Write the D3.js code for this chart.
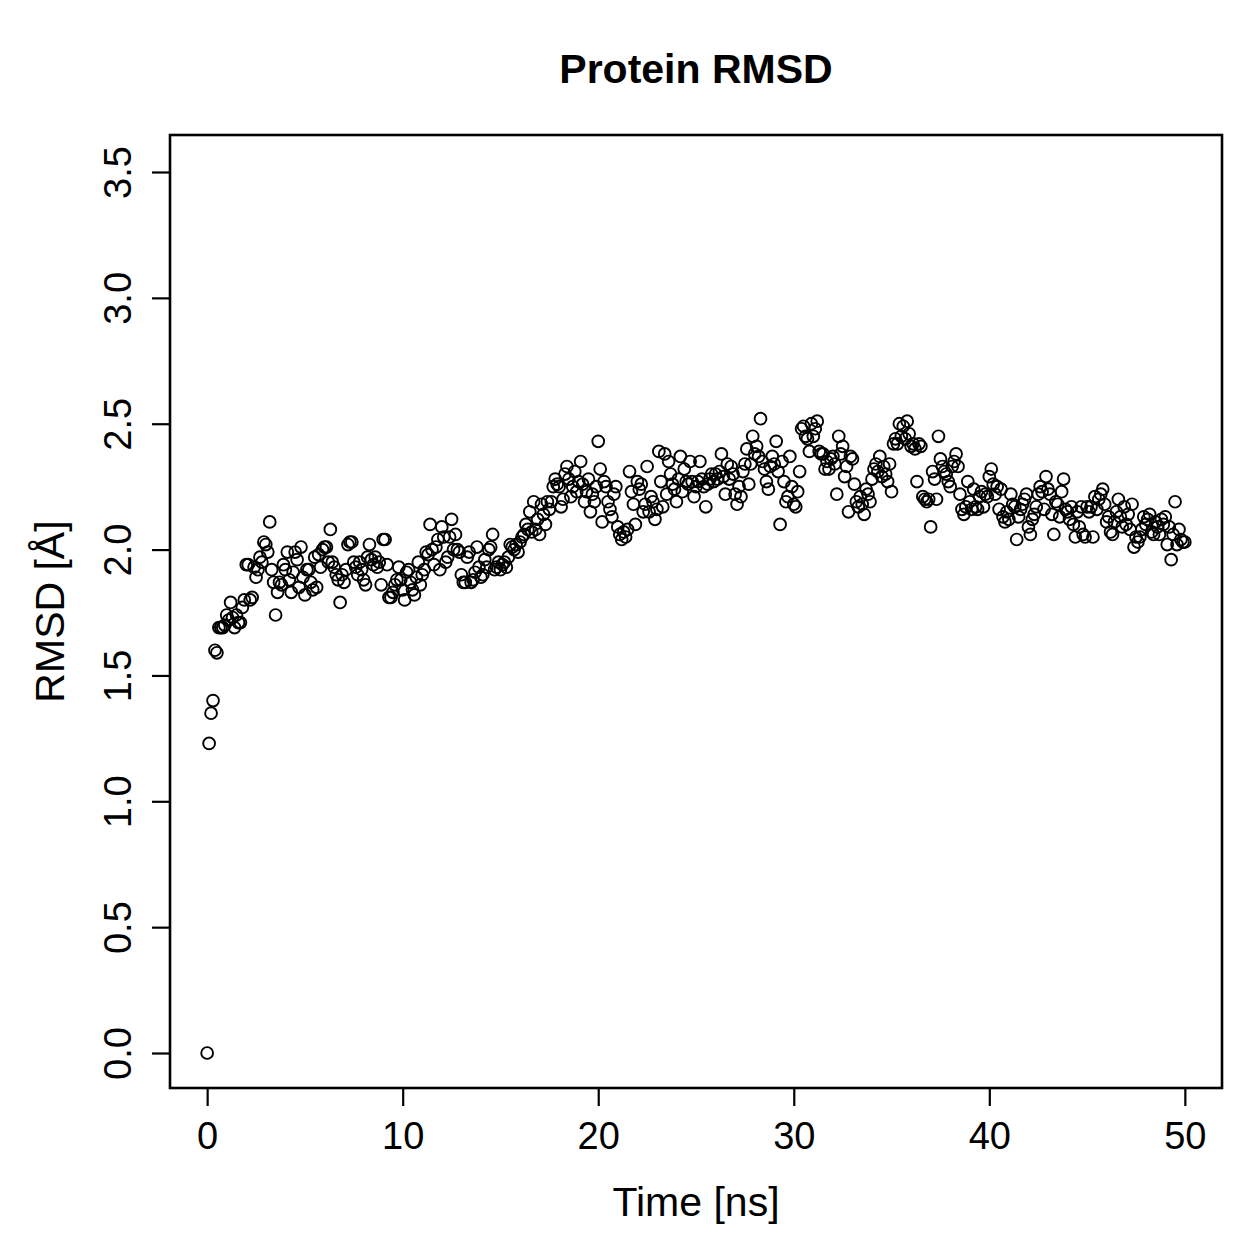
<!DOCTYPE html>
<html>
<head>
<meta charset="utf-8">
<script src="https://cdn.jsdelivr.net/npm/d3@7"></script>
<style>
  body { margin: 0; background: #fff; }
  svg text { font-family: "Liberation Sans", Arial, Helvetica, sans-serif; fill: #000; }
</style>
</head>
<body>
<div id="chart"></div>
<script>
// RMSD values, one per 0.1 ns (each row is one ns)
const rmsd = [
  0.00, 1.23, 1.35, 1.40, 1.60, 1.59, 1.69, 1.69, 1.69, 1.70,
  1.74, 1.72, 1.79, 1.73, 1.69, 1.74, 1.71, 1.71, 1.77, 1.80,
  1.94, 1.94, 1.80, 1.81, 1.93, 1.89, 1.92, 1.97, 1.95, 2.03,
  2.02, 1.99, 2.11, 1.92, 1.87, 1.74, 1.83, 1.87, 1.86, 1.94,
  1.92, 1.99, 1.88, 1.83, 1.91, 1.99, 1.96, 1.85, 2.01, 1.89,
  1.82, 1.92, 1.92, 1.87, 1.84, 1.97, 1.85, 1.98, 1.93, 2.00,
  2.01, 2.01, 1.95, 2.08, 1.95, 1.93, 1.90, 1.88, 1.79, 1.90,
  1.87, 1.92, 2.02, 2.03, 2.03, 1.95, 1.93, 1.90, 1.95, 1.92,
  1.88, 1.86, 1.97, 2.02, 1.96, 1.94, 1.97, 1.93, 1.95, 1.86,
  2.04, 2.04, 1.94, 1.81, 1.81, 1.83, 1.86, 1.88, 1.93, 1.88,
  1.84, 1.80, 1.91, 1.92, 1.87, 1.84, 1.82, 1.89, 1.95, 1.86,
  1.90, 1.92, 1.99, 1.98, 2.10, 2.00, 1.94, 2.01, 2.04, 1.92,
  2.09, 2.05, 1.95, 1.97, 2.05, 2.12, 2.00, 2.06, 2.00, 1.99,
  1.90, 1.87, 1.87, 1.97, 1.99, 1.87, 1.88, 1.91, 2.01, 1.93,
  1.89, 1.90, 1.96, 1.93, 2.00, 2.01, 2.06, 1.92, 1.93, 1.95,
  1.92, 1.94, 1.95, 1.93, 1.97, 2.02, 2.01, 2.00, 2.02, 1.99,
  2.03, 2.05, 2.06, 2.10, 2.08, 2.15, 2.07, 2.19, 2.08, 2.12,
  2.06, 2.18, 2.14, 2.10, 2.19, 2.16, 2.19, 2.25, 2.28, 2.26,
  2.25, 2.17, 2.20, 2.30, 2.33, 2.28, 2.21, 2.25, 2.31, 2.23,
  2.27, 2.35, 2.26, 2.19, 2.23, 2.28, 2.15, 2.22, 2.19, 2.25,
  2.43, 2.32, 2.11, 2.27, 2.25, 2.19, 2.16, 2.13, 2.22, 2.25,
  2.09, 2.06, 2.04, 2.07, 2.05, 2.08, 2.31, 2.23, 2.18, 2.10,
  2.27, 2.24, 2.26, 2.15, 2.18, 2.33, 2.15, 2.21, 2.19, 2.12,
  2.16, 2.39, 2.27, 2.17, 2.38, 2.22, 2.35, 2.30, 2.26, 2.24,
  2.19, 2.28, 2.37, 2.23, 2.32, 2.27, 2.26, 2.35, 2.27, 2.21,
  2.25, 2.27, 2.35, 2.28, 2.25, 2.17, 2.26, 2.28, 2.30, 2.27,
  2.30, 2.28, 2.31, 2.38, 2.29, 2.22, 2.34, 2.28, 2.33, 2.30,
  2.22, 2.18, 2.25, 2.21, 2.31, 2.34, 2.40, 2.26, 2.34, 2.45,
  2.38, 2.41, 2.37, 2.52, 2.35, 2.32, 2.27, 2.24, 2.33, 2.37,
  2.34, 2.43, 2.31, 2.10, 2.35, 2.27, 2.19, 2.21, 2.37, 2.25,
  2.18, 2.17, 2.23, 2.31, 2.48, 2.49, 2.45, 2.44, 2.39, 2.50,
  2.45, 2.48, 2.51, 2.39, 2.38, 2.38, 2.32, 2.35, 2.32, 2.36,
  2.37, 2.34, 2.22, 2.45, 2.38, 2.41, 2.29, 2.33, 2.15, 2.37,
  2.36, 2.26, 2.19, 2.17, 2.21, 2.18, 2.14, 2.24, 2.22, 2.19,
  2.28, 2.32, 2.34, 2.31, 2.37, 2.29, 2.33, 2.30, 2.27, 2.34,
  2.23, 2.42, 2.44, 2.42, 2.50, 2.45, 2.49, 2.44, 2.51, 2.46,
  2.41, 2.42, 2.40, 2.27, 2.42, 2.41, 2.21, 2.20, 2.19, 2.20,
  2.09, 2.31, 2.28, 2.20, 2.45, 2.36, 2.33, 2.31, 2.30, 2.27,
  2.25, 2.33, 2.35, 2.38, 2.33, 2.22, 2.16, 2.14, 2.17, 2.27,
  2.19, 2.16, 2.24, 2.17, 2.16, 2.21, 2.23, 2.17, 2.22, 2.21,
  2.29, 2.32, 2.26, 2.22, 2.25, 2.16, 2.24, 2.13, 2.11, 2.15,
  2.12, 2.22, 2.18, 2.17, 2.04, 2.13, 2.16, 2.18, 2.20, 2.22,
  2.09, 2.06, 2.12, 2.14, 2.17, 2.22, 2.25, 2.23, 2.16, 2.29,
  2.24, 2.22, 2.14, 2.06, 2.19, 2.18, 2.13, 2.23, 2.28, 2.16,
  2.15, 2.12, 2.17, 2.10, 2.05, 2.15, 2.09, 2.17, 2.06, 2.05,
  2.17, 2.15, 2.17, 2.05, 2.21, 2.16, 2.20, 2.22, 2.24, 2.18,
  2.11, 2.13, 2.07, 2.06, 2.11, 2.15, 2.20, 2.13, 2.09, 2.17,
  2.10, 2.14, 2.08, 2.18, 2.01, 2.05, 2.03, 2.05, 2.08, 2.13,
  2.10, 2.12, 2.14, 2.07, 2.06, 2.11, 2.09, 2.06, 2.12, 2.10,
  2.13, 2.02, 2.09, 1.96, 2.06, 2.19, 2.02, 2.08, 2.04, 2.03,
  2.03
];
const timeStep = 0.1; // ns between frames
const xTicks = [0, 10, 20, 30, 40, 50];
const yTicks = [0.0, 0.5, 1.0, 1.5, 2.0, 2.5, 3.0, 3.5];

const width = 1259, height = 1259;
const box = { left: 170, right: 1222, top: 135, bottom: 1088 };

const svg = d3.select("#chart").append("svg")
  .attr("width", width)
  .attr("height", height);

// R style padding around the data range
const x = d3.scaleLinear().domain([-1.9, 51.9]).range([box.left, box.right]);
const y = d3.scaleLinear().domain([-0.139, 3.647]).range([box.bottom, box.top]);

// points
svg.append("g")
  .selectAll("circle")
  .data(rmsd)
  .enter()
  .append("circle")
  .attr("cx", (d, i) => x(i * timeStep))
  .attr("cy", d => y(d))
  .attr("r", 5.9)
  .attr("fill", "none")
  .attr("stroke", "#000")
  .attr("stroke-width", 1.9);

// x axis
const xAxis = svg.append("g")
  .attr("transform", `translate(0,${box.bottom})`)
  .call(d3.axisBottom(x).tickValues(xTicks).tickSize(18).tickPadding(16).tickFormat(d3.format("d")));
xAxis.select(".domain").remove();
xAxis.selectAll("line").attr("stroke-width", 2.2);
xAxis.selectAll("text").attr("font-size", 38).attr("font-family", "Liberation Sans, Arial, sans-serif");

// y axis (labels rotated like R's las=0)
const yAxis = svg.append("g")
  .attr("transform", `translate(${box.left},0)`)
  .call(d3.axisLeft(y).tickValues(yTicks).tickSize(18).tickFormat(d3.format(".1f")));
yAxis.select(".domain").remove();
yAxis.selectAll("line").attr("stroke-width", 2.2);
yAxis.selectAll("text")
  .attr("font-size", 38)
  .attr("font-family", "Liberation Sans, Arial, sans-serif")
  .attr("x", null).attr("dy", null)
  .attr("text-anchor", "middle")
  .attr("transform", "translate(-39,0) rotate(-90)");

// frame
svg.append("rect")
  .attr("x", box.left).attr("y", box.top)
  .attr("width", box.right - box.left)
  .attr("height", box.bottom - box.top)
  .attr("fill", "none")
  .attr("stroke", "#000")
  .attr("stroke-width", 2.6);

// title & labels
svg.append("text")
  .attr("x", (box.left + box.right) / 2)
  .attr("y", 83)
  .attr("text-anchor", "middle")
  .attr("font-size", 41)
  .attr("font-weight", "bold")
  .text("Protein RMSD");

svg.append("text")
  .attr("x", (box.left + box.right) / 2)
  .attr("y", 1216)
  .attr("text-anchor", "middle")
  .attr("font-size", 41)
  .text("Time [ns]");

svg.append("text")
  .attr("transform", `translate(64,${(box.top + box.bottom) / 2}) rotate(-90)`)
  .attr("text-anchor", "middle")
  .attr("font-size", 41)
  .text("RMSD [Å]");
</script>
</body>
</html>
